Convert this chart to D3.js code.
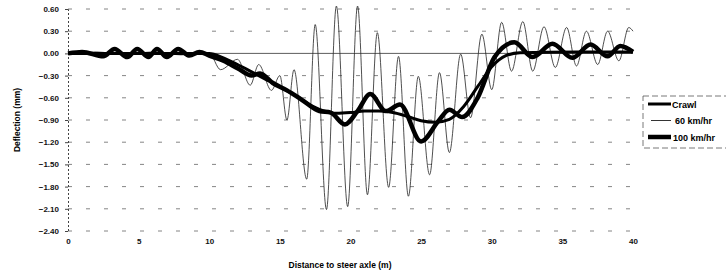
<!DOCTYPE html>
<html>
<head>
<meta charset="utf-8">
<script src="https://cdn.jsdelivr.net/npm/d3@7"></script>
<style>
  body { margin: 0; background: #fff; }
  svg { display: block; font-family: "Liberation Sans", Arial, sans-serif; }
</style>
</head>
<body>
<svg id="chart" width="726" height="273"></svg>
<script>
// tick labels
const yTicks = [0.6, 0.3, 0, -0.3, -0.6, -0.9, -1.2, -1.5, -1.8, -2.1, -2.4]
const xTicks = [0, 5, 10, 15, 20, 25, 30, 35, 40]

// Crawl (distance m, deflection mm)
const crawlX = [0, 5, 10, 11, 12, 13, 14, 15, 16, 17, 18, 19, 20, 21, 22, 23, 24, 25, 26, 27, 28, 29, 30, 31, 32, 36, 40]
const crawlY = [0, 0, 0, -0.06, -0.15, -0.25, -0.35, -0.45, -0.56, -0.68, -0.77, -0.81, -0.8, -0.78, -0.78, -0.8, -0.85, -0.91, -0.93, -0.89, -0.72, -0.45, -0.18, -0.03, 0.01, 0.02, 0.02]

// 60 km/hr, peaks and troughs
const kmh60X = [0, 2, 4, 6, 8, 10, 10.8, 12.0, 12.9, 13.5, 14.4, 15.0, 15.5, 16.0, 16.9, 17.5, 18.3, 19.0, 19.8, 20.5, 21.2, 21.9, 22.7, 23.4, 24.1, 24.8, 25.6, 26.3, 27.0, 27.8, 28.5, 29.3, 30.0, 30.7, 31.4, 32.2, 32.9, 33.7, 34.5, 35.3, 36.0, 36.7, 37.5, 38.2, 39.0, 39.7, 40]
const kmh60Y = [0, 0.02, -0.02, 0.02, -0.02, 0, -0.22, -0.08, -0.43, -0.15, -0.5, -0.3, -0.9, -0.22, -1.7, 0.39, -2.11, 0.64, -2.07, 0.64, -1.91, 0.28, -1.81, -0.04, -1.93, -0.31, -1.64, -0.26, -1.34, -0.01, -0.87, 0.26, -0.49, 0.42, -0.24, 0.43, -0.24, 0.36, -0.19, 0.35, -0.17, 0.3, -0.15, 0.3, -0.1, 0.35, 0.3]

// 100 km/hr
const kmh100X = [0, 1, 2.5, 3.3, 4.2, 4.9, 5.7, 6.3, 7.0, 7.8, 8.6, 9.3, 10, 11, 12, 13, 13.6, 14.5, 15.5, 16.5, 17.8, 18.6, 19.6, 20.5, 21.4, 22.5, 23.5, 25.0, 26.2, 27.0, 27.9, 29.0, 30.2, 31.6, 32.9, 34.3, 35.7, 37.0, 38.2, 39.1, 40]
const kmh100Y = [0, 0.02, -0.04, 0.06, -0.05, 0.06, -0.05, 0.06, -0.05, 0.06, -0.03, 0.02, -0.03, -0.1, -0.2, -0.3, -0.27, -0.4, -0.5, -0.62, -0.78, -0.8, -0.96, -0.78, -0.55, -0.78, -0.69, -1.19, -0.92, -0.76, -0.86, -0.6, -0.05, 0.15, -0.05, 0.13, -0.06, 0.12, -0.04, 0.1, 0.02]

const seriesNames = ["Crawl", "60 km/hr", "100 km/hr"]

const svg = d3.select("#chart")
const plotLeft = 68, plotRight = 633, plotTop = 9, plotBottom = 231

const x = d3.scaleLinear().domain([0, 40]).range([plotLeft, plotRight])
const y = d3.scaleLinear().domain([-2.4, 0.6]).range([plotBottom, plotTop])

// gridlines (dashed, sparse like the scan)
svg.append("g")
  .selectAll("line")
  .data(yTicks.filter(d => d !== 0))
  .enter().append("line")
  .attr("x1", plotLeft).attr("x2", plotRight)
  .attr("y1", d => y(d)).attr("y2", d => y(d))
  .attr("stroke", "#666")
  .attr("stroke-width", 0.8)
  .attr("stroke-dasharray", "4,14")

// zero line
svg.append("line")
  .attr("x1", plotLeft).attr("x2", plotRight)
  .attr("y1", y(0)).attr("y2", y(0))
  .attr("stroke", "#333").attr("stroke-width", 0.8)

// y axis
const yAxis = svg.append("g")
  .attr("transform", `translate(${plotLeft},0)`)
  .call(d3.axisLeft(y).tickValues(yTicks).tickSize(3).tickFormat(d3.format(".2f")))
yAxis.select(".domain").attr("stroke", "#444").attr("stroke-dasharray", "2,2")
yAxis.selectAll(".tick line").attr("stroke", "#444")
yAxis.selectAll("text")
  .attr("x", -9)
  .attr("font-size", 8).attr("font-weight", "bold").attr("fill", "#111")
  .attr("font-family", "Liberation Sans, Arial, sans-serif")

// x axis labels at the bottom
const xAxis = svg.append("g")
  .attr("transform", `translate(0,${plotBottom})`)
  .call(d3.axisBottom(x).tickValues(xTicks).tickSize(0).tickPadding(7))
xAxis.select(".domain").remove()
xAxis.selectAll("text")
  .attr("font-size", 8).attr("font-weight", "bold").attr("fill", "#111")
  .attr("font-family", "Liberation Sans, Arial, sans-serif")

// axis titles
svg.append("text")
  .attr("x", 340).attr("y", 268)
  .attr("text-anchor", "middle")
  .attr("font-size", 8.5).attr("font-weight", "bold")
  .text("Distance to steer axle (m)")

svg.append("text")
  .attr("transform", "translate(20,120) rotate(-90)")
  .attr("text-anchor", "middle")
  .attr("font-size", 8.5).attr("font-weight", "bold")
  .text("Deflection (mm)")

// lines
const line = d3.line()
  .x(d => x(d[0]))
  .y(d => y(d[1]))
  .curve(d3.curveMonotoneX)

const zip = (a, b) => a.map((v, i) => [v, b[i]])

svg.append("path")
  .datum(zip(kmh60X, kmh60Y))
  .attr("d", line)
  .attr("fill", "none").attr("stroke", "#222").attr("stroke-width", 0.8)

svg.append("path")
  .datum(zip(crawlX, crawlY))
  .attr("d", line)
  .attr("fill", "none").attr("stroke", "#000").attr("stroke-width", 3)

svg.append("path")
  .datum(zip(kmh100X, kmh100Y))
  .attr("d", line)
  .attr("fill", "none").attr("stroke", "#000").attr("stroke-width", 4.5)
  .attr("stroke-linejoin", "round")

// legend
const lg = svg.append("g").attr("transform", "translate(643,96)")
lg.append("rect")
  .attr("x", 0).attr("y", 0).attr("width", 90).attr("height", 52)
  .attr("fill", "#fff").attr("stroke", "#555").attr("stroke-width", 0.8)
  .attr("stroke-dasharray", "6,3")
const widths = [3, 0.8, 4.5]
const textX = [29, 32, 30]
seriesNames.forEach((name, i) => {
  const yy = 8 + i * 16.5
  lg.append("line")
    .attr("x1", i === 1 ? 8 : 5).attr("x2", 28)
    .attr("y1", yy).attr("y2", yy)
    .attr("stroke", "#000").attr("stroke-width", widths[i])
  lg.append("text")
    .attr("x", textX[i]).attr("y", yy + 3.5)
    .attr("font-size", 9).attr("font-weight", "bold")
    .text(name)
})
</script>
</body>
</html>
